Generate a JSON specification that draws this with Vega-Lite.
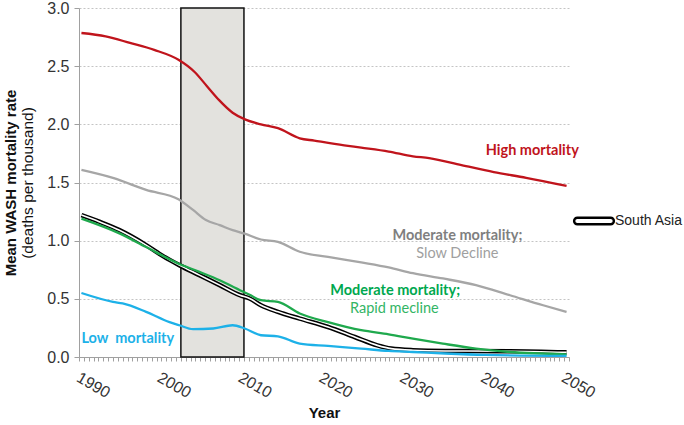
{
  "$schema": "https://vega.github.io/schema/vega-lite/v6.json",
  "autosize": "none",
  "width": 490,
  "height": 349,
  "padding": {"left": 79, "top": 8, "right": 115, "bottom": 68},
  "background": "white",
  "config": {"view": {"stroke": null}, "font": "Liberation Sans"},
  "datasets": {
    "series": [
      {"series": "High mortality", "year": 1990, "value": 2.785},
      {"series": "High mortality", "year": 1993, "value": 2.756},
      {"series": "High mortality", "year": 1996, "value": 2.70},
      {"series": "High mortality", "year": 1999, "value": 2.64},
      {"series": "High mortality", "year": 2002, "value": 2.555},
      {"series": "High mortality", "year": 2004, "value": 2.45},
      {"series": "High mortality", "year": 2005.5, "value": 2.33},
      {"series": "High mortality", "year": 2007, "value": 2.21},
      {"series": "High mortality", "year": 2008.7, "value": 2.10},
      {"series": "High mortality", "year": 2010.3, "value": 2.04},
      {"series": "High mortality", "year": 2012.2, "value": 2.00},
      {"series": "High mortality", "year": 2014.3, "value": 1.967},
      {"series": "High mortality", "year": 2017, "value": 1.88},
      {"series": "High mortality", "year": 2018.8, "value": 1.86},
      {"series": "High mortality", "year": 2022.5, "value": 1.82},
      {"series": "High mortality", "year": 2024.6, "value": 1.80},
      {"series": "High mortality", "year": 2028, "value": 1.766},
      {"series": "High mortality", "year": 2031, "value": 1.725},
      {"series": "High mortality", "year": 2033, "value": 1.71},
      {"series": "High mortality", "year": 2037, "value": 1.65},
      {"series": "High mortality", "year": 2041, "value": 1.59},
      {"series": "High mortality", "year": 2045, "value": 1.54},
      {"series": "High mortality", "year": 2050, "value": 1.47},

      {"series": "Moderate mortality; Slow Decline", "year": 1990, "value": 1.608},
      {"series": "Moderate mortality; Slow Decline", "year": 1994, "value": 1.537},
      {"series": "Moderate mortality; Slow Decline", "year": 1998, "value": 1.436},
      {"series": "Moderate mortality; Slow Decline", "year": 2002, "value": 1.356},
      {"series": "Moderate mortality; Slow Decline", "year": 2003.8, "value": 1.264},
      {"series": "Moderate mortality; Slow Decline", "year": 2005.4, "value": 1.177},
      {"series": "Moderate mortality; Slow Decline", "year": 2007.1, "value": 1.134},
      {"series": "Moderate mortality; Slow Decline", "year": 2008.7, "value": 1.09},
      {"series": "Moderate mortality; Slow Decline", "year": 2010.2, "value": 1.06},
      {"series": "Moderate mortality; Slow Decline", "year": 2012.2, "value": 1.01},
      {"series": "Moderate mortality; Slow Decline", "year": 2014.3, "value": 0.99},
      {"series": "Moderate mortality; Slow Decline", "year": 2017, "value": 0.905},
      {"series": "Moderate mortality; Slow Decline", "year": 2020.5, "value": 0.861},
      {"series": "Moderate mortality; Slow Decline", "year": 2024.6, "value": 0.813},
      {"series": "Moderate mortality; Slow Decline", "year": 2028, "value": 0.77},
      {"series": "Moderate mortality; Slow Decline", "year": 2031, "value": 0.72},
      {"series": "Moderate mortality; Slow Decline", "year": 2034.7, "value": 0.675},
      {"series": "Moderate mortality; Slow Decline", "year": 2038.8, "value": 0.618},
      {"series": "Moderate mortality; Slow Decline", "year": 2043, "value": 0.531},
      {"series": "Moderate mortality; Slow Decline", "year": 2047.1, "value": 0.445},
      {"series": "Moderate mortality; Slow Decline", "year": 2050, "value": 0.388},

      {"series": "Moderate mortality; Rapid decline", "year": 1990, "value": 1.19},
      {"series": "Moderate mortality; Rapid decline", "year": 1994.7, "value": 1.063},
      {"series": "Moderate mortality; Rapid decline", "year": 1998, "value": 0.945},
      {"series": "Moderate mortality; Rapid decline", "year": 2002.1, "value": 0.80},
      {"series": "Moderate mortality; Rapid decline", "year": 2004.6, "value": 0.732},
      {"series": "Moderate mortality; Rapid decline", "year": 2007.1, "value": 0.66},
      {"series": "Moderate mortality; Rapid decline", "year": 2009.6, "value": 0.574},
      {"series": "Moderate mortality; Rapid decline", "year": 2010.8, "value": 0.535},
      {"series": "Moderate mortality; Rapid decline", "year": 2012.2, "value": 0.488},
      {"series": "Moderate mortality; Rapid decline", "year": 2014.3, "value": 0.474},
      {"series": "Moderate mortality; Rapid decline", "year": 2017, "value": 0.374},
      {"series": "Moderate mortality; Rapid decline", "year": 2020.5, "value": 0.30},
      {"series": "Moderate mortality; Rapid decline", "year": 2024.6, "value": 0.23},
      {"series": "Moderate mortality; Rapid decline", "year": 2028, "value": 0.195},
      {"series": "Moderate mortality; Rapid decline", "year": 2031, "value": 0.158},
      {"series": "Moderate mortality; Rapid decline", "year": 2034.7, "value": 0.115},
      {"series": "Moderate mortality; Rapid decline", "year": 2038.8, "value": 0.072},
      {"series": "Moderate mortality; Rapid decline", "year": 2043, "value": 0.043},
      {"series": "Moderate mortality; Rapid decline", "year": 2050, "value": 0.023},

      {"series": "Low mortality", "year": 1990, "value": 0.55},
      {"series": "Low mortality", "year": 1993.9, "value": 0.474},
      {"series": "Low mortality", "year": 1995.1, "value": 0.46},
      {"series": "Low mortality", "year": 1998, "value": 0.388},
      {"series": "Low mortality", "year": 2000.9, "value": 0.30},
      {"series": "Low mortality", "year": 2002.1, "value": 0.273},
      {"series": "Low mortality", "year": 2003.8, "value": 0.239},
      {"series": "Low mortality", "year": 2006.3, "value": 0.245},
      {"series": "Low mortality", "year": 2008.7, "value": 0.273},
      {"series": "Low mortality", "year": 2010.2, "value": 0.245},
      {"series": "Low mortality", "year": 2012.2, "value": 0.187},
      {"series": "Low mortality", "year": 2014.3, "value": 0.178},
      {"series": "Low mortality", "year": 2017, "value": 0.115},
      {"series": "Low mortality", "year": 2020.5, "value": 0.095},
      {"series": "Low mortality", "year": 2024.6, "value": 0.072},
      {"series": "Low mortality", "year": 2028, "value": 0.052},
      {"series": "Low mortality", "year": 2031, "value": 0.043},
      {"series": "Low mortality", "year": 2035, "value": 0.03},
      {"series": "Low mortality", "year": 2040, "value": 0.018},
      {"series": "Low mortality", "year": 2050, "value": 0.01}
    ],
    "southAsia": [
      {"series": "South Asia", "year": 1990, "value": 1.22},
      {"series": "South Asia", "year": 1992.2, "value": 1.163},
      {"series": "South Asia", "year": 1994.7, "value": 1.09},
      {"series": "South Asia", "year": 1998, "value": 0.962},
      {"series": "South Asia", "year": 2000.1, "value": 0.867},
      {"series": "South Asia", "year": 2002.1, "value": 0.79},
      {"series": "South Asia", "year": 2004.6, "value": 0.704},
      {"series": "South Asia", "year": 2007.1, "value": 0.618},
      {"series": "South Asia", "year": 2009.6, "value": 0.531},
      {"series": "South Asia", "year": 2010.8, "value": 0.503},
      {"series": "South Asia", "year": 2012.2, "value": 0.445},
      {"series": "South Asia", "year": 2014.3, "value": 0.388},
      {"series": "South Asia", "year": 2017, "value": 0.33},
      {"series": "South Asia", "year": 2020.5, "value": 0.258},
      {"series": "South Asia", "year": 2023.8, "value": 0.172},
      {"series": "South Asia", "year": 2026.6, "value": 0.10},
      {"series": "South Asia", "year": 2028.3, "value": 0.072},
      {"series": "South Asia", "year": 2031, "value": 0.058},
      {"series": "South Asia", "year": 2035, "value": 0.052},
      {"series": "South Asia", "year": 2043, "value": 0.05},
      {"series": "South Asia", "year": 2050, "value": 0.04}
    ]
  },
  "resolve": {"axis": {"x": "independent", "y": "independent"}},
  "layer": [
    {
      "data": {"values": [{"start": 2002.3, "end": 2010.1, "lo": 0, "hi": 3}]},
      "mark": {"type": "rect", "fill": "#e3e2de", "stroke": "#111111", "strokeWidth": 1.5},
      "encoding": {
        "x": {"field": "start", "type": "quantitative",
          "scale": {"domain": [1989.7, 2050.3], "nice": false, "zero": false},
          "axis": {"orient": "bottom", "labels": false, "title": null, "grid": false,
            "domainColor": "#a0a0a0", "tickColor": "#a0a0a0", "tickSize": 4,
            "values": [1989.7, 1990.3, 1990.9, 1991.5, 1992.1, 1992.7, 1993.3, 1993.9, 1994.5, 1995.1, 1995.7, 1996.3, 1996.9, 1997.5, 1998.1, 1998.7, 1999.3, 1999.9, 2000.5, 2001.1, 2001.7, 2002.3, 2002.9, 2003.5, 2004.1, 2004.7, 2005.3, 2005.9, 2006.5, 2007.1, 2007.7, 2008.3, 2008.9, 2009.5, 2010.1, 2010.7, 2011.3, 2011.9, 2012.5, 2013.1, 2013.7, 2014.3, 2014.9, 2015.5, 2016.1, 2016.7, 2017.3, 2017.9, 2018.5, 2019.1, 2019.7, 2020.3, 2020.9, 2021.5, 2022.1, 2022.7, 2023.3, 2023.9, 2024.5, 2025.1, 2025.7, 2026.3, 2026.9, 2027.5, 2028.1, 2028.7, 2029.3, 2029.9, 2030.5, 2031.1, 2031.7, 2032.3, 2032.9, 2033.5, 2034.1, 2034.7, 2035.3, 2035.9, 2036.5, 2037.1, 2037.7, 2038.3, 2038.9, 2039.5, 2040.1, 2040.7, 2041.3, 2041.9, 2042.5, 2043.1, 2043.7, 2044.3, 2044.9, 2045.5, 2046.1, 2046.7, 2047.3, 2047.9, 2048.5, 2049.1, 2049.7, 2050.3]}},
        "x2": {"field": "end"},
        "y": {"field": "lo", "type": "quantitative",
          "scale": {"domain": [0, 3], "nice": false},
          "axis": {"orient": "left", "labels": false, "ticks": false, "domain": false, "grid": false,
            "title": "Mean WASH mortality rate", "titleFontSize": 15, "titleFontWeight": "bold",
            "titleColor": "#111111", "titlePadding": 61, "titleFont": "Liberation Sans"}},
        "y2": {"field": "hi"}
      }
    },
    {
      "data": {"name": "southAsia"},
      "mark": {"type": "line", "strokeWidth": 4.6, "interpolate": "monotone"},
      "encoding": {
        "x": {"field": "year", "type": "quantitative",
          "axis": {"orient": "bottom", "values": [1990, 2000, 2010, 2020, 2030, 2040, 2050],
            "format": "d", "ticks": false, "domain": false, "grid": false,
            "labelAngle": 30, "labelAlign": "left", "labelBaseline": "top", "labelPadding": 12,
            "labelFlush": false, "labelOverlap": false, "labelBound": false,
            "labelFont": "Liberation Sans", "labelFontSize": 16, "labelColor": "#333333",
            "title": "Year", "titleFont": "Liberation Sans", "titleFontSize": 15, "titleFontWeight": "bold", "titleColor": "#111111", "titlePadding": 5}},
        "y": {"field": "value", "type": "quantitative",
          "axis": {"orient": "left", "values": [0, 0.5, 1, 1.5, 2, 2.5, 3], "format": ".1f",
            "labelFont": "Liberation Sans", "labelFontSize": 16, "labelColor": "#333333", "labelPadding": 5,
            "grid": true, "gridColor": "#c4c4c4", "gridDash": [2, 2],
            "domainColor": "#a0a0a0", "tickColor": "#a0a0a0", "tickSize": 5,
            "title": "(deaths per thousand)", "titleFont": "Liberation Sans", "titleFontSize": 15.5, "titleFontWeight": "normal",
            "titleColor": "#111111", "titlePadding": 11}},
        "color": {"field": "series", "type": "nominal",
          "scale": {"domain": ["High mortality", "Moderate mortality; Slow Decline", "Moderate mortality; Rapid decline", "Low mortality", "South Asia"],
            "range": ["#c0141c", "#a6a6a6", "#1fa94d", "#1db1e8", "#000000"]},
          "legend": {"orient": "none", "legendX": 494, "legendY": 192, "title": null, "values": ["South Asia"],
            "padding": 0, "symbolType": "M-0.85,-0.17L0.85,-0.17A0.17,0.17 0 0 1 0.85,0.17L-0.85,0.17A0.17,0.17 0 0 1 -0.85,-0.17Z",
            "symbolSize": 1521, "symbolStrokeWidth": 2.4, "labelFont": "Liberation Sans", "labelFontSize": 14, "labelColor": "#222222", "labelOffset": 0,
            "encode": {"symbols": {"update": {"fill": {"value": "white"}, "stroke": {"value": "black"}, "strokeWidth": {"value": 2.4}}}}}}
      }
    },
    {
      "data": {"name": "southAsia"},
      "mark": {"type": "line", "strokeWidth": 1.6, "color": "white", "interpolate": "monotone"},
      "encoding": {
        "x": {"field": "year", "type": "quantitative", "axis": null},
        "y": {"field": "value", "type": "quantitative", "axis": null}
      }
    },
    {
      "data": {"name": "series"},
      "mark": {"type": "line", "strokeWidth": 2.3, "interpolate": "monotone"},
      "encoding": {
        "x": {"field": "year", "type": "quantitative", "axis": null},
        "y": {"field": "value", "type": "quantitative", "axis": null},
        "color": {"field": "series", "type": "nominal"}
      }
    },
    {
      "data": {"values": [{"text": "High mortality", "x": 2040.0, "y": 1.774}]},
      "mark": {"type": "text", "align": "left", "baseline": "middle", "font": "Lato", "fontSize": 14.5, "fontWeight": "bold", "color": "#c0141c"},
      "encoding": {"x": {"field": "x", "type": "quantitative", "axis": null}, "y": {"field": "y", "type": "quantitative", "axis": null}, "text": {"field": "text"}}
    },
    {
      "data": {"values": [{"text": "Moderate mortality;", "x": 2036.5, "y": 1.04}]},
      "mark": {"type": "text", "align": "center", "baseline": "middle", "font": "Lato", "fontSize": 14.5, "fontWeight": "bold", "color": "#7f7f7f"},
      "encoding": {"x": {"field": "x", "type": "quantitative", "axis": null}, "y": {"field": "y", "type": "quantitative", "axis": null}, "text": {"field": "text"}}
    },
    {
      "data": {"values": [{"text": "Slow Decline", "x": 2036.5, "y": 0.885}]},
      "mark": {"type": "text", "align": "center", "baseline": "middle", "font": "Lato", "fontSize": 14.5, "color": "#a0a0a0"},
      "encoding": {"x": {"field": "x", "type": "quantitative", "axis": null}, "y": {"field": "y", "type": "quantitative", "axis": null}, "text": {"field": "text"}}
    },
    {
      "data": {"values": [{"text": "Moderate mortality;", "x": 2028.8, "y": 0.568}]},
      "mark": {"type": "text", "align": "center", "baseline": "middle", "font": "Lato", "fontSize": 14.5, "fontWeight": "bold", "color": "#00a84f"},
      "encoding": {"x": {"field": "x", "type": "quantitative", "axis": null}, "y": {"field": "y", "type": "quantitative", "axis": null}, "text": {"field": "text"}}
    },
    {
      "data": {"values": [{"text": "Rapid mecline", "x": 2028.7, "y": 0.41}]},
      "mark": {"type": "text", "align": "center", "baseline": "middle", "font": "Lato", "fontSize": 14.5, "color": "#33b565"},
      "encoding": {"x": {"field": "x", "type": "quantitative", "axis": null}, "y": {"field": "y", "type": "quantitative", "axis": null}, "text": {"field": "text"}}
    },
    {
      "data": {"values": [{"text": "Low\u00a0 mortality", "x": 1990.0, "y": 0.158}]},
      "mark": {"type": "text", "align": "left", "baseline": "middle", "font": "Lato", "fontSize": 14.5, "fontWeight": "bold", "color": "#1db1e8"},
      "encoding": {"x": {"field": "x", "type": "quantitative", "axis": null}, "y": {"field": "y", "type": "quantitative", "axis": null}, "text": {"field": "text"}}
    }
  ]
}
